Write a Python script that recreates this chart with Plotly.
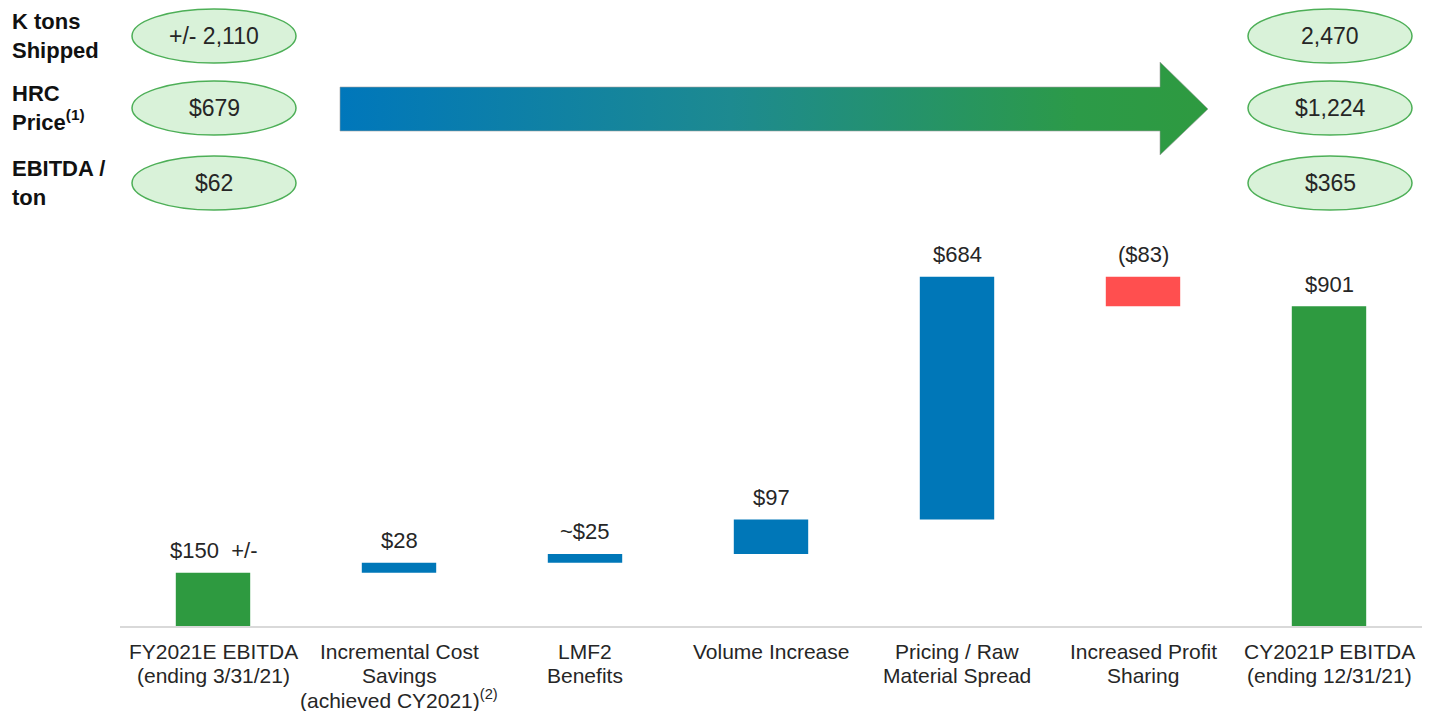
import plotly.graph_objects as go

# waterfall data ($M)
categories = [
    "FY2021E EBITDA<br>(ending 3/31/21)",
    "Incremental Cost<br>Savings<br>(achieved CY2021)<sup>(2)</sup>",
    "LMF2<br>Benefits",
    "Volume Increase",
    "Pricing / Raw<br>Material Spread",
    "Increased Profit<br>Sharing",
    "CY2021P EBITDA<br>(ending 12/31/21)",
]
measures = ["absolute", "relative", "relative", "relative", "relative", "relative", "total"]
values = [150, 28, 25, 97, 684, -83, 901]
value_labels = ["$150  +/-", "$28", "~$25", "$97", "$684", "($83)", "$901"]

# header metrics
metric_names = ["K tons<br>Shipped", "HRC<br>Price<sup style='font-size:11px'>(1)</sup>", "EBITDA /<br>ton"]
metric_start = ["+/- 2,110", "$679", "$62"]
metric_end = ["2,470", "$1,224", "$365"]

FONT = "Liberation Sans, Arial, sans-serif"
TXT = "#262626"
BLUE = "#0077B8"
GREEN = "#2E9A40"
RED = "#FF4F4F"
W, H = 1434, 711

fig = go.Figure()

fig.add_trace(go.Waterfall(
    x=categories, y=values, measure=measures,
    increasing=dict(marker=dict(color=BLUE)),
    decreasing=dict(marker=dict(color=RED)),
    totals=dict(marker=dict(color=GREEN)),
    connector=dict(visible=False),
    width=0.4, textposition="none", hoverinfo="skip",
))

# value labels above each bar top
running = 0
for cat, m, v, lab in zip(categories, measures, values, value_labels):
    if m == "relative":
        top = max(running, running + v)
        running += v
    else:
        top = v
        running = v
    fig.add_annotation(x=cat, y=top, xref="x", yref="y", text=lab, showarrow=False,
                       yanchor="middle", yshift=22, font=dict(size=22, color=TXT, family=FONT))

# category labels under the axis, one line at a time
for cat in categories:
    for i, line in enumerate(cat.split("<br>")):
        fig.add_annotation(x=cat, y=0, xref="x", yref="y", text=line, showarrow=False,
                           yanchor="middle", yshift=-25 - 24 * i,
                           font=dict(size=21, color=TXT, family=FONT))

# gradient arrow on a pixel-space overlay
arrow_x = [340, 1160, 1160, 1208, 1160, 1160, 340, 340]
arrow_y = [87, 87, 62, 109, 155, 131, 131, 87]
fig.add_trace(go.Scatter(
    x=arrow_x, y=arrow_y, xaxis="x2", yaxis="y2", mode="lines", fill="toself",
    line=dict(color="rgba(160,160,160,0.6)", width=1),
    fillgradient=dict(type="horizontal",
                      colorscale=[[0, "#0077BB"], [0.45, "#1D8A90"], [0.85, "#2C9A48"], [1, "#2E9A40"]]),
    hoverinfo="skip", showlegend=False,
))

rows = [36, 108, 183]
for yc, name, a, b in zip(rows, metric_names, metric_start, metric_end):
    fig.add_annotation(x=10, y=yc, xref="x2", yref="y2", text=name, showarrow=False,
                       xanchor="left", yanchor="middle", align="left",
                       font=dict(size=22, color="#111111", family=FONT, weight="bold"))
    for xc, txt in ((214, a), (1330, b)):
        fig.add_shape(type="circle", xref="x2", yref="y2",
                      x0=xc - 82, x1=xc + 82, y0=yc - 27, y1=yc + 27,
                      fillcolor="#D9F2D9", line=dict(color="#4DAF57", width=1.5), layer="below")
        fig.add_annotation(x=xc, y=yc, xref="x2", yref="y2", text=txt, showarrow=False,
                           font=dict(size=23, color=TXT, family=FONT))

fig.update_layout(
    width=W, height=H, margin=dict(l=0, r=0, t=0, b=0),
    paper_bgcolor="white", plot_bgcolor="rgba(0,0,0,0)",
    showlegend=False,
    xaxis=dict(domain=[120 / W, 1422 / W], showticklabels=False, showgrid=False, zeroline=False,
               showline=True, linecolor="#D9D9D9", linewidth=2, ticks="", range=[-0.5, 6.5]),
    yaxis=dict(domain=[(H - 626) / H, (H - 240) / H], range=[0, 386 / 0.355], visible=False),
    xaxis2=dict(domain=[0, 1], range=[0, W], visible=False, anchor="y2"),
    yaxis2=dict(domain=[0, 1], range=[H, 0], visible=False, anchor="x2"),
)

fig.write_html("out.html", config={"displayModeBar": False},
               post_script="document.body.style.margin='0';document.body.style.overflow='hidden';")
